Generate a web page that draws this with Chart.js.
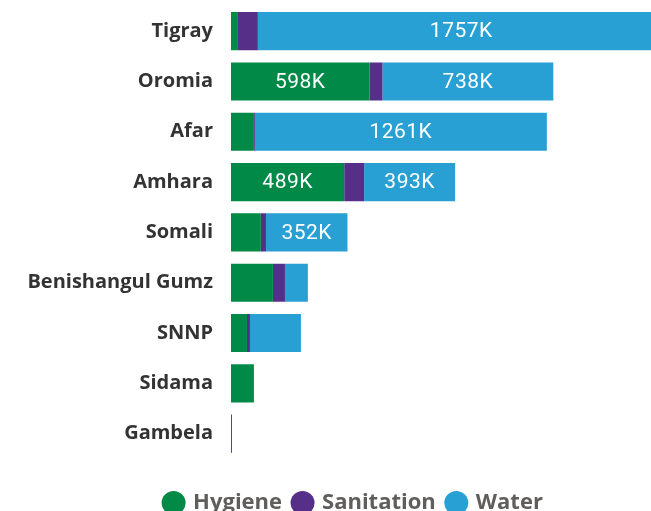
<!DOCTYPE html>
<html>
<head>
<meta charset="utf-8">
<script src="https://cdn.jsdelivr.net/npm/chart.js@4.4.0/dist/chart.umd.min.js"></script>
<style>
  html, body { margin: 0; padding: 0; background: #fff; overflow: hidden; }
  /* o visual original e mais largo que a janela e aparece cortado a direita */
  #wrap { width: 708px; height: 511px; position: relative; }
</style>
</head>
<body>
<div id="wrap"><canvas id="chart"></canvas></div>
<script>
// regioes e valores (milhares de pessoas)
const regions = ['Tigray', 'Oromia', 'Afar', 'Amhara', 'Somali', 'Benishangul Gumz', 'SNNP', 'Sidama', 'Gambela'];
const hygiene = [30, 598, 99, 489, 129, 181, 69, 99, 0];
const sanitation = [86, 56, 4, 86, 22, 52, 13, 0, 4];
const water = [1757, 738, 1261, 393, 352, 99, 220, 0, 0];

const colors = { hygiene: '#018A47', sanitation: '#552F88', water: '#29A0D3' };

// rotulos dentro das barras
const barLabels = {
    id: 'barLabels',
    afterDatasetsDraw(chart) {
        const ctx = chart.ctx;
        const area = chart.chartArea;
        ctx.save();
        ctx.beginPath();
        ctx.rect(area.left, area.top, area.right - area.left, area.bottom - area.top);
        ctx.clip();
        ctx.fillStyle = '#fff';
        ctx.font = '21px Roboto';
        ctx.letterSpacing = '0.5px';
        ctx.textAlign = 'center';
        ctx.textBaseline = 'middle';
        chart.data.datasets.forEach((ds, i) => {
            const meta = chart.getDatasetMeta(i);
            meta.data.forEach((bar, j) => {
                const v = ds.data[j];
                if (v < 300) return;
                const p = bar.getProps(['x', 'y', 'base'], true);
                ctx.fillText(v + 'K', (p.x + p.base) / 2, p.y + 1);
            });
        });
        ctx.restore();
    }
};

new Chart(document.getElementById('chart'), {
    type: 'bar',
    data: {
        labels: regions,
        datasets: [
            { label: 'Hygiene', data: hygiene, backgroundColor: colors.hygiene },
            { label: 'Sanitation', data: sanitation, backgroundColor: colors.sanitation },
            { label: 'Water', data: water, backgroundColor: colors.water }
        ]
    },
    options: {
        indexAxis: 'y',
        responsive: true,
        maintainAspectRatio: false,
        animation: false,
        layout: { padding: { top: 6, right: 0, left: 0, bottom: -13 } },
        datasets: { bar: { barPercentage: 1, categoryPercentage: 0.758, borderWidth: 0 } },
        scales: {
            x: { stacked: true, display: false, min: 0, max: 2060 },
            y: {
                stacked: true,
                grid: { display: false, drawTicks: false },
                border: { display: false },
                afterFit(scale) {
                    scale.width = 231;
                    scale.paddingTop = 0;
                    scale.paddingBottom = 0;
                },
                ticks: {
                    color: '#333',
                    padding: 18,
                    font: { family: 'Open Sans', size: 20, weight: 'bold' }
                }
            }
        },
        plugins: {
            legend: {
                position: 'bottom',
                title: { display: true, text: ' ', color: 'rgba(0,0,0,0)', font: { size: 1 }, padding: { top: 20, bottom: 0 } },
                labels: {
                    usePointStyle: true,
                    pointStyle: 'circle',
                    boxWidth: 17,
                    boxHeight: 17,
                    padding: 12,
                    color: '#605E5C',
                    font: { family: 'Open Sans', size: 22, weight: 'bold' }
                }
            },
            tooltip: { enabled: false }
        }
    },
    plugins: [barLabels]
});
</script>
</body>
</html>
